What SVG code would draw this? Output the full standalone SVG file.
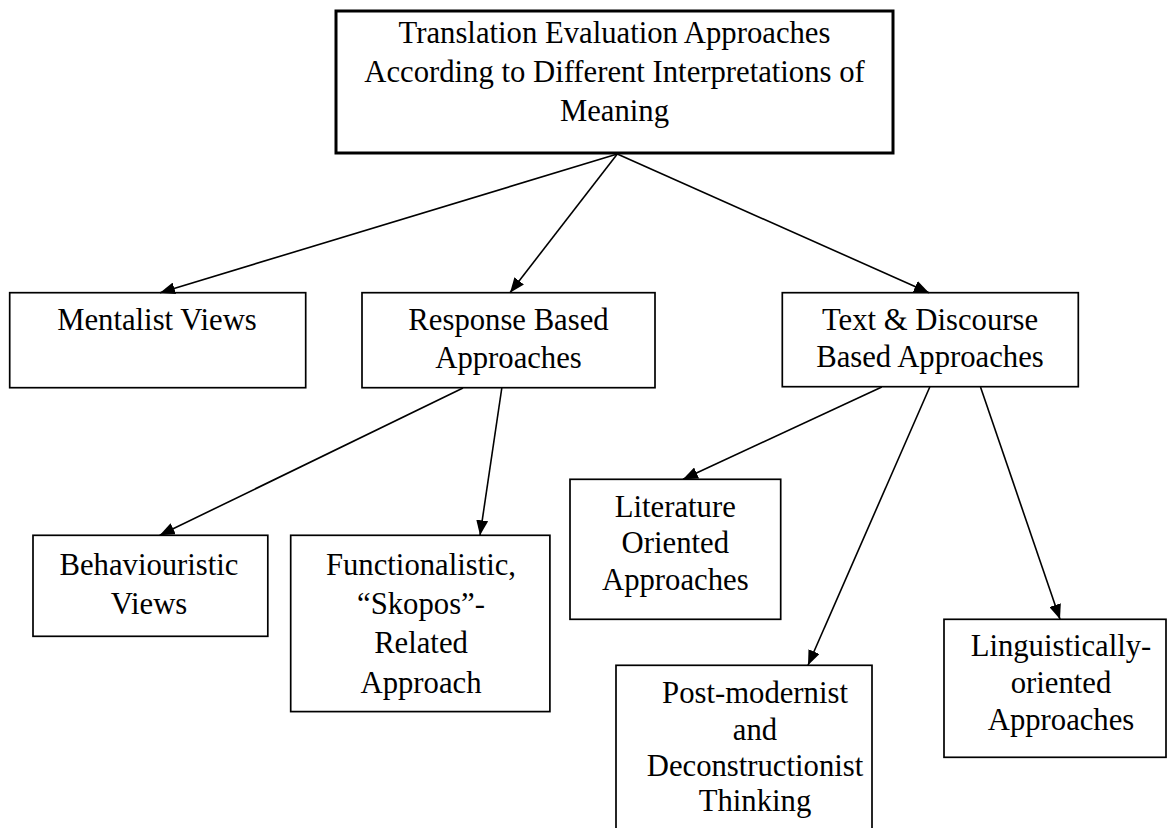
<svg xmlns="http://www.w3.org/2000/svg" width="1175" height="828" viewBox="0 0 1175 828">
<style>
.box{fill:#fff;stroke:#000;stroke-width:1.7}
.main{fill:#fff;stroke:#000;stroke-width:3}
text{font-family:"Liberation Serif","Times New Roman",serif;font-size:30.7px;fill:#000;text-anchor:middle}
.c line{stroke:#000;stroke-width:1.6;marker-end:url(#ah)}
</style>
<defs>
<marker id="ah" markerUnits="userSpaceOnUse" markerWidth="15" markerHeight="12" refX="15" refY="6" orient="auto">
<path d="M0,0 L15,6 L0,12 Z" fill="#000"/>
</marker>
</defs>
<rect width="1175" height="828" fill="#fff"/>
<g id="root">
<rect class="main" x="336" y="11" width="557" height="142"/>
<text x="614.5" y="43">Translation Evaluation Approaches</text>
<text x="614.5" y="82">According to Different Interpretations of</text>
<text x="614.5" y="120.5">Meaning</text>
</g>
<g id="mentalist">
<rect class="box" x="9.7" y="292.7" width="296" height="95"/>
<text x="157" y="330">Mentalist Views</text>
</g>
<g id="response">
<rect class="box" x="362" y="292.7" width="293" height="95"/>
<text x="508.5" y="330">Response Based</text>
<text x="508.5" y="368">Approaches</text>
</g>
<g id="textdiscourse">
<rect class="box" x="782.3" y="292.7" width="296" height="94"/>
<text x="930" y="330">Text &amp; Discourse</text>
<text x="930" y="367">Based Approaches</text>
</g>
<g id="behaviouristic">
<rect class="box" x="33" y="535.3" width="234.8" height="101"/>
<text x="149" y="575">Behaviouristic</text>
<text x="149" y="614.3">Views</text>
</g>
<g id="functionalistic">
<rect class="box" x="290.7" y="535.3" width="259.2" height="176.3"/>
<text x="421" y="575">Functionalistic,</text>
<text x="421" y="614.3">“Skopos”-</text>
<text x="421" y="653">Related</text>
<text x="421" y="692.5">Approach</text>
</g>
<g id="literature">
<rect class="box" x="570" y="479.3" width="210.7" height="140"/>
<text x="675.3" y="516.5">Literature</text>
<text x="675.3" y="553">Oriented</text>
<text x="675.3" y="589.5">Approaches</text>
</g>
<g id="postmodernist">
<rect class="box" x="616" y="665.3" width="256" height="180"/>
<text x="755" y="703">Post-modernist</text>
<text x="755" y="740">and</text>
<text x="755" y="775.5">Deconstructionist</text>
<text x="755" y="811">Thinking</text>
</g>
<g id="linguistically">
<rect class="box" x="944" y="619.3" width="222" height="138"/>
<text x="1061" y="656">Linguistically-</text>
<text x="1061" y="693">oriented</text>
<text x="1061" y="729.5">Approaches</text>
</g>
<g class="c" id="connectors">
<line x1="617.3" y1="154" x2="160" y2="292.7"/>
<line x1="617.3" y1="154" x2="510" y2="292.7"/>
<line x1="617.3" y1="154" x2="929" y2="292.7"/>
<line x1="463" y1="388" x2="159.7" y2="535.3"/>
<line x1="501.8" y1="388" x2="480" y2="535.3"/>
<line x1="881.8" y1="387" x2="683" y2="479.3"/>
<line x1="929.8" y1="387" x2="808" y2="665.3"/>
<line x1="980.5" y1="387" x2="1060" y2="619.3"/>
</g>
</svg>
